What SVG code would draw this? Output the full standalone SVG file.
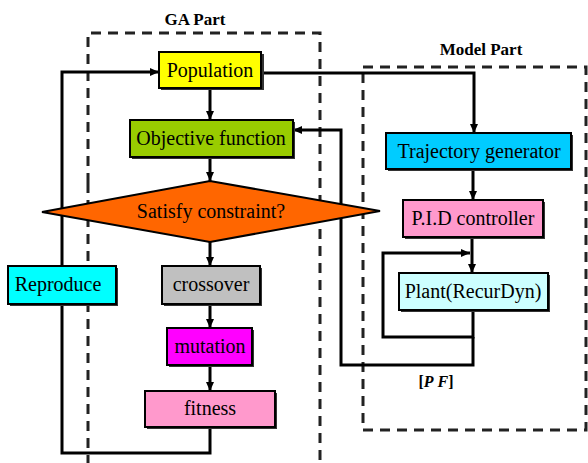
<svg xmlns="http://www.w3.org/2000/svg" width="588" height="463" viewBox="0 0 588 463">
<style>
text{font-family:"Liberation Serif","Times New Roman",serif;fill:#000;text-anchor:middle}
.lbl{font-size:20px}
.title{font-size:17px;font-weight:bold}
.box{stroke:#000;stroke-width:2}
.sh{fill:#333}
.dash{fill:none;stroke:#222;stroke-width:3;stroke-dasharray:10 7}
.con{fill:none;stroke:#000;stroke-width:3}
</style>
<defs>
<marker id="ah" markerWidth="10" markerHeight="10" refX="9" refY="5" orient="auto" markerUnits="userSpaceOnUse">
<path d="M0,1 L9,5 L0,9 Z" fill="#000"/>
</marker>
</defs>
<rect width="588" height="463" fill="#fff"/>
<g id="ga-part">
<path class="dash" d="M88,183 V33 H320 V463"/>
<path class="dash" d="M88,183 V463"/>
<text class="title" x="195" y="25">GA Part</text>
</g>
<g id="model-part">
<path class="dash" d="M363,67 H586 V430 H363 Z"/>
<text class="title" x="481" y="55">Model Part</text>
</g>
<g id="connectors">
<line class="con" x1="210" y1="88" x2="210" y2="120" marker-end="url(#ah)"/>
<line class="con" x1="210" y1="158" x2="210" y2="181" marker-end="url(#ah)"/>
<line class="con" x1="210" y1="242" x2="210" y2="266" marker-end="url(#ah)"/>
<line class="con" x1="210" y1="305" x2="210" y2="328" marker-end="url(#ah)"/>
<line class="con" x1="210" y1="365" x2="210" y2="391" marker-end="url(#ah)"/>
<path class="con" d="M210,428 V453 H62 V72 H159" marker-end="url(#ah)"/>
<path class="con" d="M262,73 H474 V133" marker-end="url(#ah)"/>
<line class="con" x1="473" y1="170" x2="473" y2="200" marker-end="url(#ah)"/>
<line class="con" x1="472" y1="237" x2="472" y2="273" marker-end="url(#ah)"/>
<path class="con" d="M473,310 V337 H383 V253 H470" marker-end="url(#ah)"/>
<path class="con" d="M473,337 V365 H341 V130 H293" marker-end="url(#ah)"/>
<text x="436" y="387" style="font-size:16px;font-weight:bold">[<tspan font-style="italic">P</tspan> <tspan font-style="italic">F</tspan>]</text>
</g>
<g id="population">
<rect class="sh" x="161" y="54" width="103" height="36"/>
<rect class="box" x="159" y="52" width="102" height="36" fill="#ffff00"/>
<text class="lbl" x="210" y="77">Population</text>
</g>
<g id="objective">
<rect class="sh" x="132" y="122" width="163" height="37"/>
<rect class="box" x="130" y="120" width="163" height="37" fill="#99cc00"/>
<text class="lbl" x="211" y="145">Objective function</text>
</g>
<g id="constraint">
<polygon points="42,212 210,181 380,211 210,242" fill="#ff6600" stroke="#000" stroke-width="2"/>
<text class="lbl" x="211" y="218">Satisfy constraint?</text>
</g>
<g id="crossover">
<rect class="sh" x="164" y="268" width="98" height="38"/>
<rect class="box" x="162" y="266" width="98" height="38" fill="#c0c0c0"/>
<text class="lbl" x="211" y="291">crossover</text>
</g>
<g id="mutation">
<rect class="sh" x="169" y="330" width="85" height="37"/>
<rect class="box" x="167" y="328" width="85" height="37" fill="#ff00ff"/>
<text class="lbl" x="210" y="353">mutation</text>
</g>
<g id="fitness">
<rect class="sh" x="147" y="393" width="130" height="36"/>
<rect class="box" x="145" y="391" width="130" height="36" fill="#ff99cc"/>
<text class="lbl" x="210" y="415">fitness</text>
</g>
<g id="reproduce">
<rect class="sh" x="10" y="268" width="108" height="38"/>
<rect class="box" x="8" y="266" width="108" height="38" fill="#00ffff"/>
<text class="lbl" x="58" y="291">Reproduce</text>
</g>
<g id="trajectory">
<rect class="sh" x="388" y="135" width="185" height="36"/>
<rect class="box" x="386" y="133" width="185" height="36" fill="#00ccff"/>
<text class="lbl" x="479" y="158">Trajectory generator</text>
</g>
<g id="pid">
<rect class="sh" x="405" y="202" width="140" height="37"/>
<rect class="box" x="403" y="200" width="140" height="37" fill="#ff99cc"/>
<text class="lbl" x="473" y="225">P.I.D controller</text>
</g>
<g id="plant">
<rect class="sh" x="401" y="275" width="149" height="37"/>
<rect class="box" x="399" y="273" width="149" height="37" fill="#ccffff"/>
<text class="lbl" x="473" y="298">Plant(RecurDyn)</text>
</g>
</svg>
